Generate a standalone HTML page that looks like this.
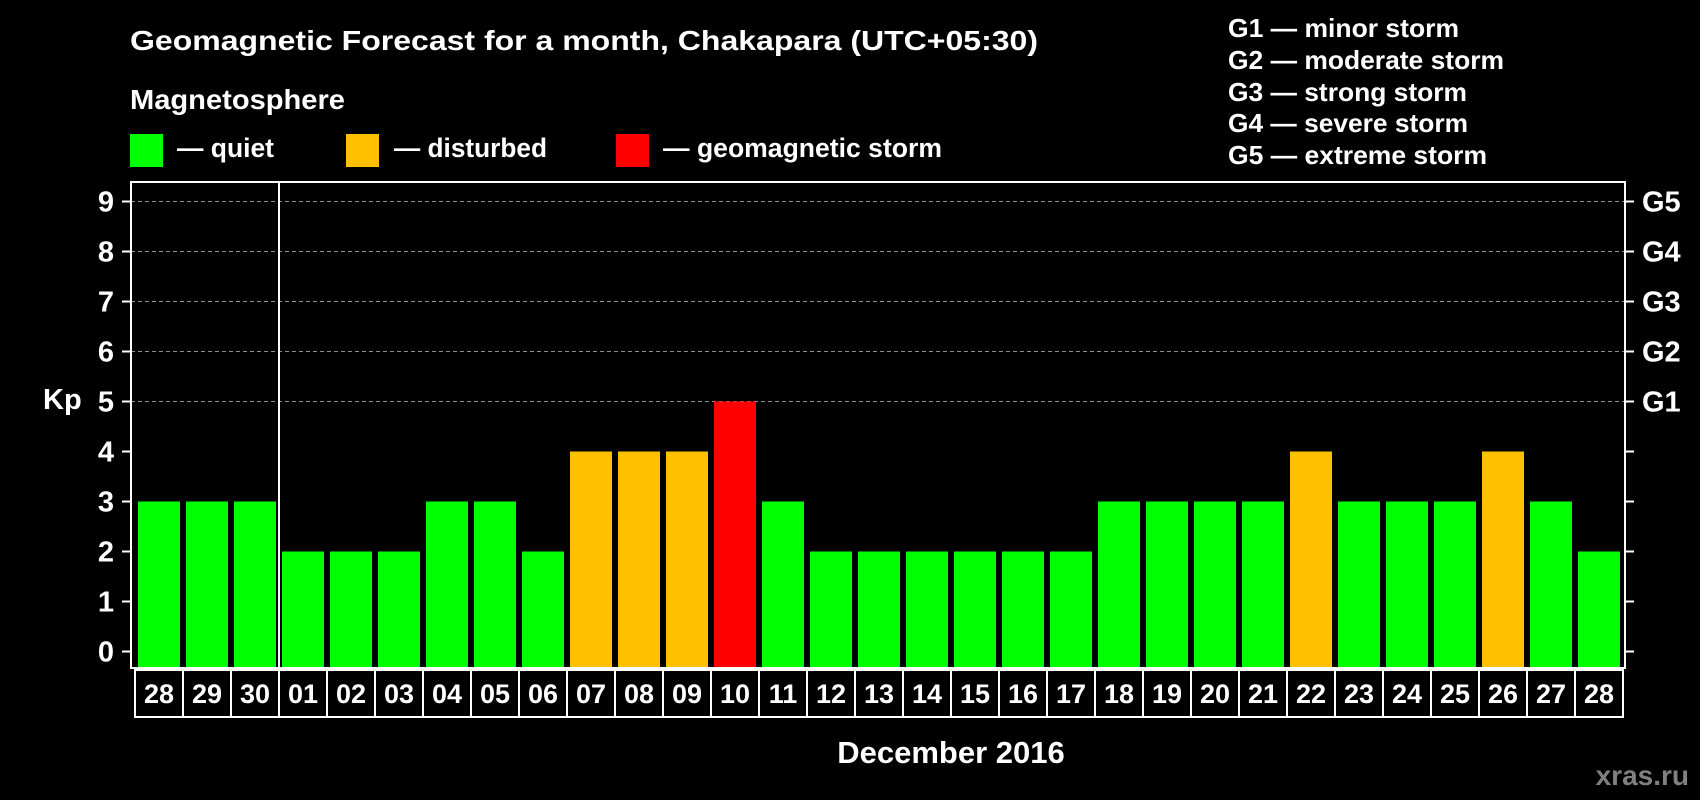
<!DOCTYPE html>
<html><head><meta charset="utf-8"><style>
html,body{margin:0;padding:0;background:#000;}
svg{display:block;font-family:"Liberation Sans",sans-serif;font-weight:bold;}
</style></head><body>
<svg id="chart" width="1700" height="800" viewBox="0 0 1700 800" xmlns="http://www.w3.org/2000/svg">
<rect width="1700" height="800" fill="#000"/>
<text x="130" y="50" fill="#fff" font-size="28" textLength="908" lengthAdjust="spacingAndGlyphs">Geomagnetic Forecast for a month, Chakapara (UTC+05:30)</text>
<text x="130" y="109" fill="#fff" font-size="28" textLength="215" lengthAdjust="spacingAndGlyphs">Magnetosphere</text>
<g><rect x="130" y="134" width="33" height="33" fill="#00ff00"/><text x="177" y="157" fill="#fff" font-size="27" textLength="97" lengthAdjust="spacingAndGlyphs">— quiet</text></g>
<g><rect x="346" y="134" width="33" height="33" fill="#ffc000"/><text x="394" y="157" fill="#fff" font-size="27" textLength="153" lengthAdjust="spacingAndGlyphs">— disturbed</text></g>
<g><rect x="616" y="134" width="33" height="33" fill="#ff0000"/><text x="663" y="157" fill="#fff" font-size="27" textLength="279" lengthAdjust="spacingAndGlyphs">— geomagnetic storm</text></g>
<g fill="#fff" font-size="26">
<text x="1228" y="37" textLength="231" lengthAdjust="spacingAndGlyphs">G1 — minor storm</text>
<text x="1228" y="69" textLength="276" lengthAdjust="spacingAndGlyphs">G2 — moderate storm</text>
<text x="1228" y="101" textLength="239" lengthAdjust="spacingAndGlyphs">G3 — strong storm</text>
<text x="1228" y="132" textLength="240" lengthAdjust="spacingAndGlyphs">G4 — severe storm</text>
<text x="1228" y="164" textLength="259" lengthAdjust="spacingAndGlyphs">G5 — extreme storm</text>
</g>
<g id="grid"></g>
<g id="bars"></g>
<rect x="131" y="182" width="1494" height="486" fill="none" stroke="#fff" stroke-width="2"/>
<g id="axes"></g>
<line x1="279" y1="182" x2="279" y2="717" stroke="#fff" stroke-width="2"/>
<text x="43" y="409" fill="#fff" font-size="29">Kp</text>
<text x="951" y="763" fill="#fff" font-size="31" text-anchor="middle">December 2016</text>
<text x="1689" y="785" fill="#808080" font-size="28" text-anchor="end">xras.ru</text>
</svg>
<script>
const days = ["28","29","30","01","02","03","04","05","06","07","08","09","10","11","12","13","14","15","16","17","18","19","20","21","22","23","24","25","26","27","28"];
const kpValues = [3,3,3,2,2,2,3,3,2,4,4,4,5,3,2,2,2,2,2,2,3,3,3,3,4,3,3,3,4,3,2];
const yTicks = [0,1,2,3,4,5,6,7,8,9];
const gLabels = ["","","","","","G1","G2","G3","G4","G5"];

const NS = "http://www.w3.org/2000/svg";
const y0 = 651.5, unit = 50, x0 = 138, pitch = 48, bw = 42, frameBottom = 668;
const yScale = v => y0 - v * unit;
const xScale = i => x0 + i * pitch;
function mk(tag, attrs, parent){const e=document.createElementNS(NS,tag);for(const k in attrs)e.setAttribute(k,attrs[k]);parent.appendChild(e);return e;}
const grid=document.getElementById('grid'), bars=document.getElementById('bars'), axes=document.getElementById('axes');
yTicks.forEach((t,i)=>{
  const y=yScale(t);
  if(t>=5){const g=mk('line',{x1:131,x2:1625,y1:y,y2:y,stroke:'#909090','stroke-width':1,'stroke-dasharray':'4,3'},grid);
  
  }
  const tl=mk('line',{x1:122,x2:131,y1:y,y2:y,stroke:'#fff','stroke-width':2},axes);
  
  
  const tr=mk('line',{x1:1625,x2:1634,y1:y,y2:y,stroke:'#fff','stroke-width':2},axes);
  
  
  const lab=mk('text',{x:114,y:y+10,fill:'#fff','font-size':29,'text-anchor':'end'},axes);
  lab.textContent=String(t);
  
  
  if(gLabels[i]){const gl=mk('text',{x:1642,y:y+10,fill:'#fff','font-size':29},axes);
  gl.textContent=gLabels[i];
  
  }
});
kpValues.forEach((v,i)=>{
  const col = v>=5?'#ff0000':(v>=4?'#ffc000':'#00ff00');
  const x=xScale(i), y=yScale(v);
  const r=mk('rect',{x:x,y:y,width:bw,height:frameBottom-y,fill:col},bars);
  
  
  const b=mk('rect',{x:x-3,y:670,width:48,height:47,fill:'none',stroke:'#fff','stroke-width':2},axes);
  
  
  const t=mk('text',{x:x+bw/2,y:703,fill:'#fff','font-size':27,'text-anchor':'middle'},axes);
  t.textContent=days[i];
  
  
});
</script>
</body></html>
